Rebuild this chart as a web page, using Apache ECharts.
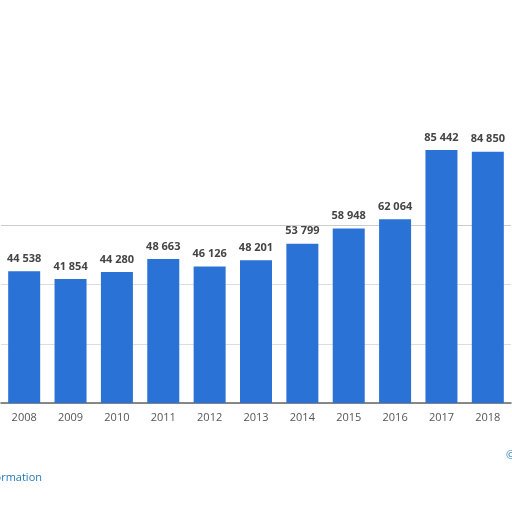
<!DOCTYPE html>
<html><head><meta charset="utf-8">
<script src="https://cdn.jsdelivr.net/npm/echarts@6/dist/echarts.min.js"></script>
<style>html,body{margin:0;padding:0;background:#fff}#c{width:512px;height:512px}</style>
</head><body><div id="c"></div>
<script>
const categories = ['2008','2009','2010','2011','2012','2013','2014','2015','2016','2017','2018'];
const values = [44538,41854,44280,48663,46126,48201,53799,58948,62064,85442,84850];
const chart = echarts.init(document.getElementById('c'));
chart.setOption({
  animation:false,
  grid:{left:1,right:1,top:107,bottom:109},
  xAxis:{type:'category',data:categories,
    axisLine:{lineStyle:{color:'#666',width:1.5}},axisTick:{show:false},
    axisLabel:{color:'#555',fontSize:11,fontFamily:'Open Sans',margin:9}},
  yAxis:{type:'value',min:0,max:100000,interval:20000,axisLabel:{show:false},
    axisLine:{show:false},axisTick:{show:false},
    splitLine:{lineStyle:{color:['#ddd','#ddd','#ddd','#ccc','rgba(0,0,0,0)','rgba(0,0,0,0)'],type:['dashed']}}},
  series:[{type:'bar',data:values,barWidth:32,itemStyle:{color:'#2a72d6'},
    label:{show:true,position:'top',distance:7,color:'#444',fontWeight:'bold',fontSize:11,fontFamily:'Open Sans',
      formatter:p=>String(p.value).replace(/\B(?=(\d{3})+(?!\d))/g,' ')}}],
  graphic:[
    {type:'text',right:470,top:472,style:{text:'Additional Information',fill:'#1f7ab8',font:'11px Open Sans'}},
    {type:'text',left:506,top:450,style:{text:'©',fill:'#1f7ab8',font:'11px Open Sans'}}
  ]
});
</script></body></html>
